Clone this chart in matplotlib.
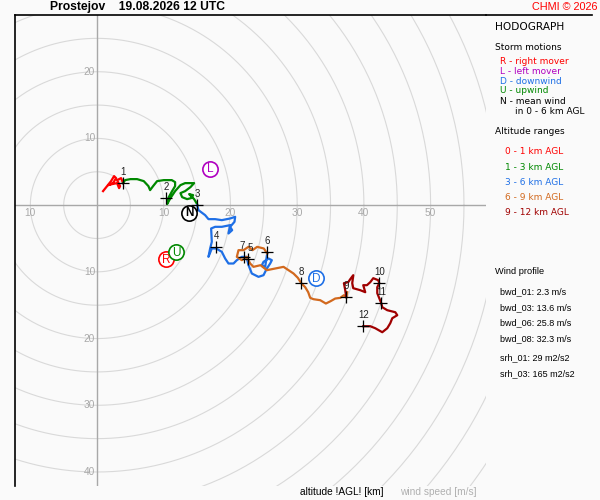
import numpy as np
import matplotlib
matplotlib.use("Agg")
import matplotlib.pyplot as plt

plt.rcParams["font.family"] = ["Liberation Sans", "DejaVu Sans"]

# hodograph traces (u, v in m/s)
red_u = [0.9, 1.5, 2.1, 2.55, 2.85, 2.4, 1.65, 2.25, 3.0, 3.3, 3.45, 3.0, 3.6, 3.9]
red_v = [2.1, 2.85, 3.6, 4.35, 4.05, 3.3, 3.0, 3.15, 3.3, 2.55, 2.85, 3.75, 4.05, 3.3]

green_u = [3.9, 4.2, 5.0, 6.0, 7.0, 7.7, 7.95, 8.4, 9.0, 10.0, 11.2, 11.7, 11.7, 11.25,
           10.75, 10.5, 10.5, 11.0, 11.7, 12.5, 13.2, 13.95, 14.55, 14.0, 13.2, 12.5,
           12.75, 13.5, 14.1, 14.4, 13.8, 14.55, 15.0]
green_v = [3.3, 3.75, 3.9, 3.9, 3.6, 2.85, 2.25, 2.85, 3.6, 3.75, 3.75, 3.45, 2.85, 2.1,
           1.2, 0.6, 0.15, 1.05, 2.1, 3.0, 3.3, 3.3, 3.3, 2.7, 2.1, 1.8,
           1.2, 0.9, 1.05, 1.5, 1.65, 0.9, 0.15]

blue_u = [15.0, 15.2, 16.2, 16.7, 17.7, 18.7, 19.95, 20.7, 20.6, 19.95, 20.25, 19.7,
          19.95, 18.7, 17.7, 17.1, 17.2, 16.95, 16.7, 17.2, 17.85, 18.7, 19.2, 19.7,
          20.45, 20.95, 21.7, 22.4, 22.7, 23.2, 24.2, 24.95, 25.45, 25.95, 26.2, 25.7,
          24.95, 24.7, 25.2, 25.5]
blue_v = [0.0, -0.75, -1.5, -2.1, -2.1, -2.25, -2.0, -1.75, -2.5, -3.25, -3.75, -4.25,
          -3.0, -3.25, -3.25, -3.5, -5.5, -6.5, -7.75, -6.5, -6.5, -7.0, -8.0, -8.75,
          -8.75, -8.25, -7.75, -7.75, -9.0, -10.25, -10.75, -10.5, -9.5, -8.75, -8.25, -8.0,
          -8.5, -9.0, -9.25, -7.25]

orange_u = [25.5, 25.0, 24.0, 23.3, 22.7, 21.95, 21.2, 20.95, 21.7, 22.45, 22.95, 23.45,
            24.5, 25.45, 26.7, 27.95, 28.7, 29.45, 30.1, 30.6, 31.2, 31.65, 31.95, 32.45,
            33.45, 34.3, 35.0, 35.7, 36.45, 37.0, 37.35, 37.5]
orange_v = [-7.25, -6.5, -6.25, -6.75, -6.25, -6.75, -6.75, -7.75, -8.25, -7.75, -8.75, -9.25,
            -9.0, -9.75, -9.5, -9.25, -9.75, -10.25, -10.9, -11.7, -12.3, -13.05, -13.9, -14.1,
            -14.25, -14.75, -14.4, -14.0, -13.9, -13.5, -13.8, -13.05]

dred_u = [37.35, 37.2, 37.0, 37.65, 37.95, 38.4, 38.25, 38.4, 39.45, 40.2, 39.9, 40.45,
          40.95, 41.4, 42.15, 42.3, 42.0, 42.0, 42.6, 42.75, 43.5, 44.7, 45.0, 44.25,
          43.95, 43.5, 42.75, 41.7, 40.95, 39.9]
dred_v = [-13.8, -12.75, -11.7, -11.55, -11.1, -10.5, -11.7, -12.45, -12.75, -13.05, -12.0, -12.0,
          -11.55, -10.95, -11.25, -11.7, -12.3, -13.2, -14.7, -15.3, -15.75, -16.05, -16.5, -16.95,
          -17.7, -18.45, -19.05, -18.45, -18.15, -18.15]

# altitude markers (km AGL)
mark_h = [1, 2, 3, 4, 5, 6, 7, 8, 9, 10, 11, 12]
mark_u = [3.9, 10.35, 15.0, 17.85, 22.6, 25.5, 22.05, 30.6, 37.35, 42.3, 42.6, 39.9]
mark_v = [3.3, 1.05, 0.0, -6.3, -8.1, -7.05, -7.8, -11.7, -13.8, -11.7, -14.7, -18.15]

# storm motions
storm_lab = ["R", "L", "D", "U", "N"]
storm_u = [10.35, 16.95, 32.85, 11.85, 13.8]
storm_v = [-8.1, 5.4, -10.95, -7.05, -1.2]

wind_profile = ["bwd_01: 2.3 m/s", "bwd_03: 13.6 m/s", "bwd_06: 25.8 m/s",
                "bwd_08: 32.3 m/s"]
srh_profile = ["srh_01: 29 m2/s2", "srh_03: 165 m2/s2"]

storm_col = {"R": "#ff0000", "L": "#b000c0", "D": "#1e6fe6", "U": "#008800", "N": "#000000"}
bg = "#fafafa"

fig = plt.figure(figsize=(6, 5), dpi=100, facecolor=bg)
ax = fig.add_axes([0.025, 0.028, 0.785, 0.942])
ax.set_facecolor(bg)
ax.set_xlim(-12.3, 58.3)
ax.set_ylim(-42.1, 28.5)
ax.set_aspect("equal")
ax.set_xticks([])
ax.set_yticks([])
for s in ["bottom", "right"]:
    ax.spines[s].set_visible(False)
for s in ["left", "top"]:
    ax.spines[s].set_linewidth(1.2)

t = np.linspace(0, 2 * np.pi, 400)
for r in range(5, 75, 5):
    ax.plot(r * np.cos(t), r * np.sin(t), color="#d9d9d9", lw=0.8, zorder=1)
ax.axhline(0, color="#a8a8a8", lw=1, zorder=1)
ax.axvline(0, color="#a8a8a8", lw=1, zorder=1)

for v in [20, 10, -10, -20, -30, -40]:
    ax.text(-0.3, v, str(abs(v)), color="#a8a8a8", fontsize=7.3,
            ha="right", va="center", zorder=2)
for u in [-10, 10, 20, 30, 40, 50]:
    ax.text(u, -0.45, str(abs(u)), color="#a8a8a8", fontsize=7.3,
            ha="center", va="top", zorder=2)

ax.plot(red_u, red_v, color="#ff0000", lw=1.6, zorder=3)
ax.plot(green_u, green_v, color="#008800", lw=1.6, zorder=3)
ax.plot(blue_u, blue_v, color="#1e6fe6", lw=1.6, zorder=3)
ax.plot(orange_u, orange_v, color="#d2691e", lw=1.6, zorder=3)
ax.plot(dred_u, dred_v, color="#a00000", lw=1.6, zorder=3)

ax.plot(mark_u, mark_v, ls="none", marker="+", ms=9, mew=0.9, color="black", zorder=4)
for h, u, v in zip(mark_h, mark_u, mark_v):
    dx = -1.5 if h == 7 else (1.5 if h == 5 else 0)
    ax.annotate(str(h), (u, v), xytext=(dx, 4.5), textcoords="offset points",
                fontsize=7, ha="center", va="bottom", color="#222222", zorder=5)

for lab, u, v in zip(storm_lab, storm_u, storm_v):
    c = storm_col[lab]
    ax.plot(u, v, marker="o", ms=11, mfc="white", mec=c, mew=1.2, zorder=5)
    ax.text(u, v - 0.05, lab, color=c, fontsize=8.5, ha="center", va="center",
            fontweight="bold" if lab == "N" else "normal", zorder=6)

fig.text(50 / 600, 1 - 7 / 500, "Prostejov    19.08.2026 12 UTC", fontsize=8.7,
         fontweight="bold", ha="left", va="center")
fig.text(597 / 600, 1 - 7 / 500, "CHMI \u00a9 2026", fontsize=7.8, color="#ff0000",
         ha="right", va="center")
fig.add_artist(plt.Line2D([486 / 600, 592 / 600], [1 - 15 / 500, 1 - 15 / 500],
                          color="black", lw=1.2))

def ptxt(x, y, s, size=6.5, family="DejaVu Sans", **kw):
    fig.text(x / 600, 1 - y / 500, s, ha="left", va="center", fontsize=size,
             family=family, **kw)

ptxt(495, 27, "HODOGRAPH", size=7.6)
ptxt(495, 47, "Storm motions")
ptxt(500, 61, "R - right mover", color=storm_col["R"])
ptxt(500, 71, "L - left mover", color=storm_col["L"])
ptxt(500, 81, "D - downwind", color=storm_col["D"])
ptxt(500, 91, "U - upwind", color=storm_col["U"])
ptxt(500, 101, "N - mean wind")
ptxt(515, 112, "in 0 - 6 km AGL")
ptxt(495, 131, "Altitude ranges")
alt_rows = ["0 - 1 km AGL", "1 - 3 km AGL", "3 - 6 km AGL", "6 - 9 km AGL", "9 - 12 km AGL"]
alt_cols = ["#ff0000", "#008800", "#1e6fe6", "#d2691e", "#a00000"]
for i, (s, c) in enumerate(zip(alt_rows, alt_cols)):
    ptxt(505, 152 + i * 15.2, s, color=c)

ptxt(495, 272, "Wind profile", size=6.7, family="Liberation Sans")
for i, s in enumerate(wind_profile):
    ptxt(500, 292 + i * 15.5, s, size=6.5, family="Liberation Sans")
for i, s in enumerate(srh_profile):
    ptxt(500, 358 + i * 15.5, s, size=6.5, family="Liberation Sans")

ptxt(300, 492, "altitude !AGL! [km]", size=7.3, family="Liberation Sans")
ptxt(400, 492, "wind speed [m/s]", size=7.3, family="Liberation Sans", color="#b0b0b0")

fig.savefig("out.png", dpi=100, facecolor=bg)
